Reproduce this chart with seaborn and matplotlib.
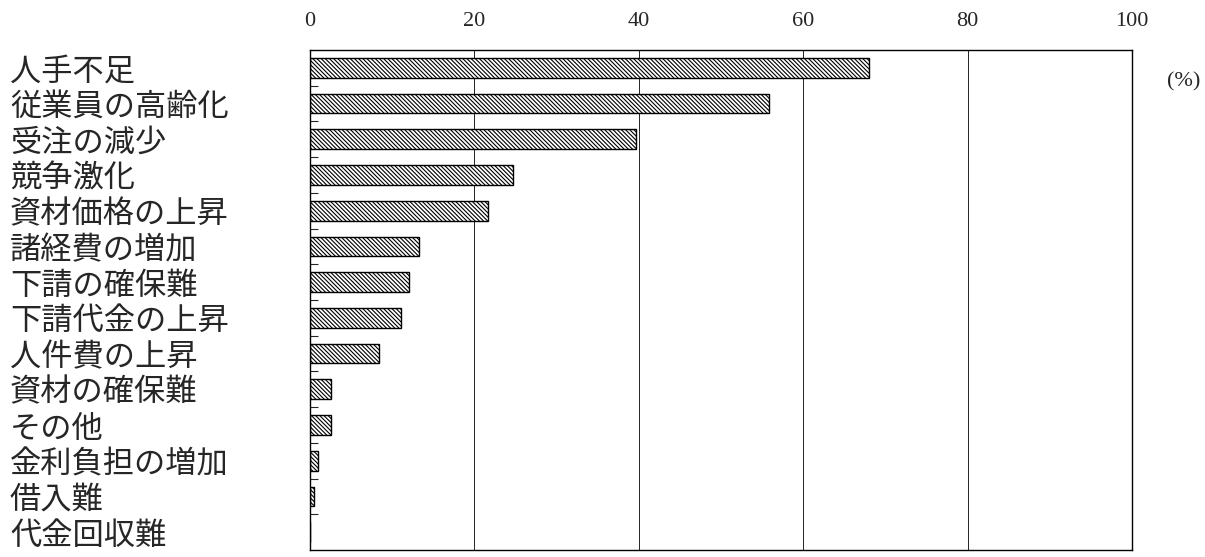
import numpy as np
import pandas as pd
import matplotlib
matplotlib.use("Agg")
import matplotlib.pyplot as plt
import seaborn as sns

# data
categories = ["人手不足", "従業員の高齢化", "受注の減少", "競争激化", "資材価格の上昇",
              "諸経費の増加", "下請の確保難", "下請代金の上昇", "人件費の上昇",
              "資材の確保難", "その他", "金利負担の増加", "借入難", "代金回収難"]
values = [68.0, 55.8, 39.6, 24.7, 21.6, 13.2, 12.1, 11.1, 8.4, 2.6, 2.6, 1.0, 0.5, 0.0]
xticks = [0, 20, 40, 60, 80, 100]

sns.set_style("white")
plt.rcParams['font.family'] = ['Noto Sans CJK JP', 'DejaVu Sans']
plt.rcParams['hatch.linewidth'] = 0.8

df = pd.DataFrame({"cat": categories, "val": values})

fig = plt.figure(figsize=(12.05, 5.57), dpi=100)
ax = fig.add_axes([310 / 1205, 7 / 557, 822 / 1205, 500 / 557])

sns.barplot(data=df, y="cat", x="val", ax=ax, orient="h", width=0.55,
            color="white", edgecolor="black", linewidth=1.0)
for p in ax.patches:
    p.set_hatch("\\" * 8)

ax.set_xlim(0, 100)
ax.set_ylim(len(categories) - 0.5, -0.5)
ax.set_xlabel("")
ax.set_ylabel("")
ax.xaxis.tick_top()
ax.set_xticks(xticks)
ax.set_xticklabels([str(t) for t in xticks], fontsize=16, family=['Liberation Serif'])
ax.tick_params(axis='x', length=0, pad=14)
ax.grid(axis='x', color='black', linewidth=0.6)
ax.set_axisbelow(True)

# category labels left aligned at figure edge
ax.tick_params(axis='y', which='major', length=0, pad=300 * 72 / 100)
for lab in ax.get_yticklabels():
    lab.set_ha('left')
    lab.set_fontsize(22.5)
ax.set_yticks(np.arange(len(categories) - 1) + 0.5, minor=True)
ax.tick_params(axis='y', which='minor', left=True, direction='in', length=6, width=0.8)

for s in ax.spines.values():
    s.set_color('black')
    s.set_linewidth(1.0)

fig.text(1200 / 1205, 1 - 82 / 557, "(%)", ha='right', va='center', fontsize=16,
         family=['Liberation Serif'])

fig.savefig("out.png", dpi=100)
